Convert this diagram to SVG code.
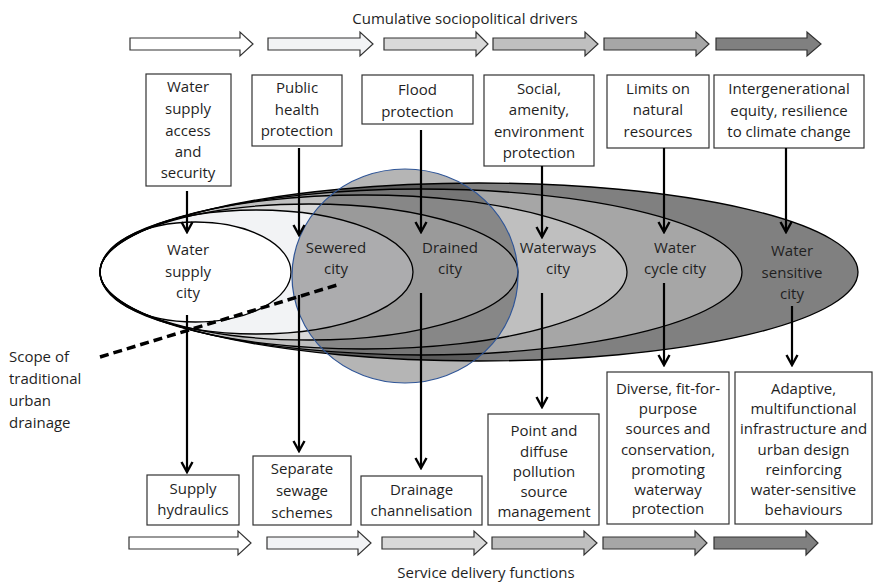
<svg xmlns="http://www.w3.org/2000/svg" width="873" height="582" viewBox="0 0 873 582">
<style>
text{font-family:"Open Sans","Noto Sans","DejaVu Sans",sans-serif;font-size:15px;fill:#1f1f1f;text-anchor:middle}
.lt{text-anchor:start}
.box{fill:#fff;stroke:#333;stroke-width:1.2}
.blk{stroke:#333;stroke-width:1.2}
.ell{stroke:#000;stroke-width:1.3}
.con{stroke:#000;stroke-width:2.2;fill:none}
</style>
<defs>
<marker id="ah" markerUnits="userSpaceOnUse" markerWidth="14" markerHeight="14" viewBox="0 0 14 14" refX="12" refY="7" orient="auto">
<path d="M2,1.5 L12,7 L2,12.5" fill="none" stroke="#000" stroke-width="2.4"/>
</marker>
</defs>
<rect width="873" height="582" fill="#fff"/>
<text x="465" y="24">Cumulative sociopolitical drivers</text>
<g id="drivers-arrows">
<polygon class="blk" fill="#ffffff" points="130,38 240,38 240,32 253,44 240,56 240,50 130,50"/>
<polygon class="blk" fill="#f2f3f5" points="268,38 360,38 360,32 373,44 360,56 360,50 268,50"/>
<polygon class="blk" fill="#d9d9d9" points="384,38 476,38 476,32 488,44 476,56 476,50 384,50"/>
<polygon class="blk" fill="#bfbfbf" points="493,38 585,38 585,32 598,44 585,56 585,50 493,50"/>
<polygon class="blk" fill="#a6a6a6" points="604,38 696,38 696,32 709,44 696,56 696,50 604,50"/>
<polygon class="blk" fill="#808080" points="716,38 807,38 807,32 821,44 807,56 807,50 716,50"/>
</g>
<g id="driver-boxes">
<g id="d1"><rect class="box" x="146" y="74" width="85" height="112"/>
<text x="188" y="92">Water</text><text x="188" y="114">supply</text><text x="188" y="136">access</text><text x="188" y="157">and</text><text x="188" y="178">security</text></g>
<g id="d2"><rect class="box" x="252" y="75" width="90" height="71"/>
<text x="297" y="93">Public</text><text x="297" y="115">health</text><text x="297" y="136">protection</text></g>
<g id="d3"><rect class="box" x="362" y="75" width="111" height="49"/>
<text x="417.5" y="95">Flood</text><text x="417.5" y="117">protection</text></g>
<g id="d4"><rect class="box" x="484" y="75" width="110" height="91"/>
<text x="539" y="94">Social,</text><text x="539" y="115">amenity,</text><text x="539" y="137">environment</text><text x="539" y="158">protection</text></g>
<g id="d5"><rect class="box" x="607" y="75" width="102" height="73"/>
<text x="658" y="94">Limits on</text><text x="658" y="115">natural</text><text x="658" y="137">resources</text></g>
<g id="d6"><rect class="box" x="714" y="75" width="150" height="73"/>
<text x="789" y="94">Intergenerational</text><text x="789" y="116">equity, resilience</text><text x="789" y="137">to climate change</text></g>
</g>
<g id="cities">
<ellipse cx="479" cy="272" rx="379" ry="89" fill="#808080"/>
<ellipse cx="421" cy="272" rx="321" ry="83" fill="#a6a6a6"/>
<ellipse cx="363.5" cy="272" rx="263.5" ry="77" fill="#bfbfbf"/>
<ellipse cx="309" cy="272" rx="209" ry="68" fill="#d9d9d9"/>
<ellipse cx="256.5" cy="272" rx="156.5" ry="62" fill="#f2f3f5"/>
<ellipse cx="195.5" cy="272" rx="95.5" ry="50" fill="#ffffff"/>
<ellipse cx="405" cy="276" rx="113" ry="107" fill="#000" fill-opacity="0.29"/>
<g fill="none" class="ell">
<ellipse cx="479" cy="272" rx="379" ry="89"/>
<ellipse cx="421" cy="272" rx="321" ry="83"/>
<ellipse cx="363.5" cy="272" rx="263.5" ry="77"/>
<ellipse cx="309" cy="272" rx="209" ry="68"/>
<ellipse cx="256.5" cy="272" rx="156.5" ry="62"/>
<ellipse cx="195.5" cy="272" rx="95.5" ry="50"/>
</g>
<ellipse cx="405" cy="276" rx="113" ry="107" fill="none" stroke="#2f5597" stroke-width="1.2"/>
<g id="c1"><text x="188" y="255">Water</text><text x="188" y="277">supply</text><text x="188" y="298">city</text></g>
<g id="c2"><text x="336" y="253">Sewered</text><text x="336" y="274">city</text></g>
<g id="c3"><text x="450" y="253">Drained</text><text x="450" y="274">city</text></g>
<g id="c4"><text x="558" y="253">Waterways</text><text x="558" y="274">city</text></g>
<g id="c5"><text x="675" y="253">Water</text><text x="675" y="274">cycle city</text></g>
<g id="c6"><text x="792" y="256">Water</text><text x="792" y="278">sensitive</text><text x="792" y="299">city</text></g>
</g>
<g id="scope">
<line x1="100" y1="357" x2="337" y2="285" stroke="#000" stroke-width="3.5" stroke-dasharray="9,5"/>
<text class="lt" x="9" y="362">Scope of</text><text class="lt" x="9" y="384">traditional</text><text class="lt" x="9" y="406">urban</text><text class="lt" x="9" y="428">drainage</text>
</g>
<g id="connectors">
<line class="con" x1="187" y1="191" x2="187" y2="232" marker-end="url(#ah)"/>
<line class="con" x1="187" y1="315" x2="187" y2="472" marker-end="url(#ah)"/>
<line class="con" x1="299" y1="148" x2="299" y2="235" marker-end="url(#ah)"/>
<line class="con" x1="299" y1="295" x2="299" y2="451" marker-end="url(#ah)"/>
<line class="con" x1="421" y1="130" x2="421" y2="232" marker-end="url(#ah)"/>
<line class="con" x1="421" y1="293" x2="421" y2="468" marker-end="url(#ah)"/>
<line class="con" x1="542" y1="166" x2="542" y2="237" marker-end="url(#ah)"/>
<line class="con" x1="542" y1="293" x2="542" y2="407" marker-end="url(#ah)"/>
<line class="con" x1="664" y1="148" x2="664" y2="232" marker-end="url(#ah)"/>
<line class="con" x1="664" y1="283" x2="664" y2="365" marker-end="url(#ah)"/>
<line class="con" x1="786" y1="148" x2="786" y2="232" marker-end="url(#ah)"/>
<line class="con" x1="792" y1="306" x2="792" y2="365" marker-end="url(#ah)"/>
</g>
<g id="function-boxes">
<g id="f1"><rect class="box" x="147" y="475" width="92" height="50"/>
<text x="193" y="494">Supply</text><text x="193" y="515">hydraulics</text></g>
<g id="f2"><rect class="box" x="253" y="456" width="98" height="69"/>
<text x="302" y="474">Separate</text><text x="302" y="496">sewage</text><text x="302" y="518">schemes</text></g>
<g id="f3"><rect class="box" x="361" y="476" width="121" height="49"/>
<text x="421.5" y="495">Drainage</text><text x="421.5" y="516">channelisation</text></g>
<g id="f4"><rect class="box" x="488" y="414" width="111" height="111"/>
<text x="544" y="436">Point and</text><text x="544" y="457">diffuse</text><text x="544" y="477">pollution</text><text x="544" y="497">source</text><text x="544" y="517">management</text></g>
<g id="f5"><rect class="box" x="607" y="372" width="122" height="152"/>
<text x="668" y="394">Diverse, fit-for-</text><text x="668" y="414">purpose</text><text x="668" y="434">sources and</text><text x="668" y="455">conservation,</text><text x="668" y="475">promoting</text><text x="668" y="495">waterway</text><text x="668" y="514">protection</text></g>
<g id="f6"><rect class="box" x="735" y="372" width="137" height="152"/>
<text x="803.5" y="394">Adaptive,</text><text x="803.5" y="414">multifunctional</text><text x="803.5" y="434">infrastructure and</text><text x="803.5" y="455">urban design</text><text x="803.5" y="475">reinforcing</text><text x="803.5" y="495">water-sensitive</text><text x="803.5" y="515">behaviours</text></g>
</g>
<g id="function-arrows">
<polygon class="blk" fill="#ffffff" points="129,537 238,537 238,531 251,543 238,555 238,549 129,549"/>
<polygon class="blk" fill="#f2f3f5" points="267,537 358,537 358,531 371,543 358,555 358,549 267,549"/>
<polygon class="blk" fill="#d9d9d9" points="382,537 474,537 474,531 487,543 474,555 474,549 382,549"/>
<polygon class="blk" fill="#bfbfbf" points="492,537 584,537 584,531 597,543 584,555 584,549 492,549"/>
<polygon class="blk" fill="#a6a6a6" points="603,537 695,537 695,531 707,543 695,555 695,549 603,549"/>
<polygon class="blk" fill="#808080" points="714,537 806,537 806,531 818,543 806,555 806,549 714,549"/>
</g>
<text x="486" y="578">Service delivery functions</text>
</svg>
